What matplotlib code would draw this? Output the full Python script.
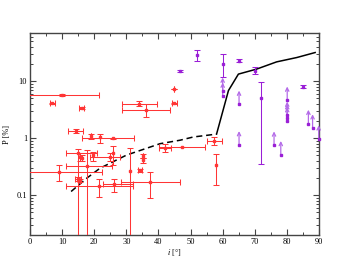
import matplotlib
matplotlib.use("Agg")
import matplotlib.pyplot as plt
import numpy as np
from matplotlib.ticker import FixedLocator, FuncFormatter, LogLocator, NullFormatter, MultipleLocator

plt.rcParams['font.family'] = ['Liberation Serif', 'DejaVu Serif']
plt.rcParams['mathtext.fontset'] = 'stix'

# ---- red points: x, y, x bounds, y bounds ----
red_x    = [9.9, 6.9, 16.1, 14.3, 18.9, 21.8, 25.9, 33.9, 36.0, 44.9, 44.9,
            15.0, 15.6, 16.3, 24.9, 26.0, 17.8, 31.1, 15.0, 15.6, 9.0, 21.6, 26.2,
            37.4, 34.3, 35.1, 35.1, 42.0, 47.2, 57.4, 57.9, 19.7]
red_y    = [5.7, 4.06, 3.37, 1.32, 1.08, 1.05, 0.99, 4.0, 3.07, 7.4, 4.1,
            0.54, 0.47, 0.44, 0.47, 0.55, 0.326, 0.27, 0.19, 0.18, 0.26, 0.142, 0.157,
            0.17, 0.277, 0.49, 0.41, 0.66, 0.69, 0.89, 0.34, 0.51]
red_xlo  = [-1.7, 6.1, 15.3, 11.7, 18.9, 21.8, 16.3, 28.6, 28.6, 44.9, 44.1,
            11.2, 15.6, 16.3, 18.7, 26.0, 11.2, 31.1, 14.0, 15.6, -4.3, 11.1, 22.8,
            28.2, 33.6, 35.1, 35.1, 40.2, 40.2, 55.0, 57.9, 19.7]
red_xhi  = [21.5, 7.7, 16.9, 16.6, 18.9, 21.8, 32.5, 39.5, 43.6, 44.9, 45.7,
            20.8, 15.6, 16.3, 28.0, 26.0, 25.4, 31.1, 16.0, 15.6, 22.3, 32.2, 32.2,
            46.7, 35.0, 35.1, 35.1, 43.8, 54.5, 59.8, 57.9, 19.7]
red_ylo  = [5.55, 3.95, 3.25, 1.22, 0.96, 0.81, 0.97, 3.6, 2.35, 7.4, 4.0,
            0.001, 0.40, 0.40, 0.40, 0.34, 0.001, 0.001, 0.175, 0.17, 0.18, 0.093, 0.115,
            0.089, 0.26, 0.45, 0.37, 0.57, 0.69, 0.76, 0.152, 0.39]
red_yhi  = [5.85, 4.17, 3.5, 1.42, 1.18, 1.16, 1.01, 4.5, 3.9, 7.4, 4.2,
            0.64, 0.55, 0.50, 0.55, 0.72, 0.62, 0.66, 0.205, 0.19, 0.34, 0.19, 0.19,
            0.25, 0.29, 0.53, 0.45, 0.78, 0.69, 1.05, 0.53, 0.58]

# ---- purple measured points ----
pur_x   = [60.0, 65.1, 70.1, 71.9, 84.9, 46.7, 52.1]
pur_y   = [19.9, 22.8, 15.2, 5.0, 8.0, 15.2, 28.5]
pur_ylo = [12.0, 21.5, 13.3, 0.35, 7.6, 14.5, 22.7]
pur_yhi = [29.7, 24.0, 17.4, 9.5, 8.4, 16.0, 35.0]

# ---- purple lower limits ----
lim_x = [60.0, 60.0, 65.1, 80.1, 80.1, 80.1, 80.1, 86.7, 88.0, 89.9, 65.1, 76.0, 78.1]
lim_y = [6.6, 5.4, 3.9, 4.6, 2.5, 2.26, 2.0, 1.8, 1.5, 0.96, 0.76, 0.75, 0.51]
arrow_factor = 1.75

# ---- model curve ----
dash_x = [12.8, 17.7, 21.8, 25.9, 30.1, 35.3, 40.5, 46.7, 50.9, 55.0, 58.1]
dash_y = [0.116, 0.199, 0.297, 0.387, 0.506, 0.636, 0.80, 0.92, 1.05, 1.12, 1.18]
solid_x = [58.1, 61.8, 64.9, 70.6, 76.8, 83.1, 88.8]
solid_y = [1.18, 6.84, 13.3, 16.3, 21.8, 26.0, 31.8]

fig = plt.figure(figsize=(3.61, 2.79), dpi=100)
ax = fig.add_axes([30/361, 1-235/279, 289/361, 202/279])
ax.set_yscale('log')
ax.set_xlim(0, 90)
ax.set_ylim(0.02, 70)

RED = '#ff3535'
PUR = '#9a1fd6'
PUR_L = '#b46be8'

rx = np.array(red_x); ry = np.array(red_y)
xerr = np.vstack([rx - np.array(red_xlo), np.array(red_xhi) - rx])
yerr = np.vstack([ry - np.array(red_ylo), np.array(red_yhi) - ry])
ax.errorbar(rx, ry, xerr=xerr, yerr=yerr, fmt='s', ms=1.8, color=RED, ecolor=RED,
            elinewidth=0.75, capsize=2.2, capthick=0.75, zorder=3)

px = np.array(pur_x); py = np.array(pur_y)
pyerr = np.vstack([py - np.array(pur_ylo), np.array(pur_yhi) - py])
ax.errorbar(px, py, yerr=pyerr, fmt='s', ms=1.8, color=PUR, ecolor=PUR,
            elinewidth=0.75, capsize=2.5, capthick=0.75, zorder=3)

for xv, yv in zip(lim_x, lim_y):
    ax.annotate('', xy=(xv, yv * arrow_factor), xytext=(xv, yv),
                arrowprops=dict(arrowstyle='->', color=PUR_L, lw=0.9, mutation_scale=6,
                                shrinkA=0, shrinkB=0), zorder=3, annotation_clip=False)
ax.plot(lim_x, lim_y, 's', ms=1.8, color=PUR, zorder=4, clip_on=False)

ax.plot(dash_x, dash_y, color='black', lw=1.1, ls=(0, (4, 2.5)), zorder=2)
ax.plot(solid_x, solid_y, color='black', lw=1.1, zorder=2)

# ticks
ax.xaxis.set_major_locator(MultipleLocator(10))
ax.xaxis.set_minor_locator(MultipleLocator(5))
ax.yaxis.set_major_locator(FixedLocator([0.1, 1, 10]))
ax.yaxis.set_minor_locator(LogLocator(base=10, subs=np.arange(2, 10)))
ax.yaxis.set_minor_formatter(NullFormatter())
ax.yaxis.set_major_formatter(FuncFormatter(lambda v, p: {0.1: '0.1', 1: '1', 10: '10'}.get(round(v, 3), '')))
ax.tick_params(which='both', direction='in', top=True, right=True, labelsize=6,
               color='#444444', pad=2)
ax.tick_params(which='major', length=4, width=0.8)
ax.tick_params(which='minor', length=2, width=0.7)
for s in ax.spines.values():
    s.set_color('#444444')
    s.set_linewidth(1.0)

ax.set_ylabel('P [%]', fontsize=6, labelpad=4)
ax.set_xlabel('$i$ [°]', fontsize=6, labelpad=1)

fig.savefig('out.png', dpi=100)
